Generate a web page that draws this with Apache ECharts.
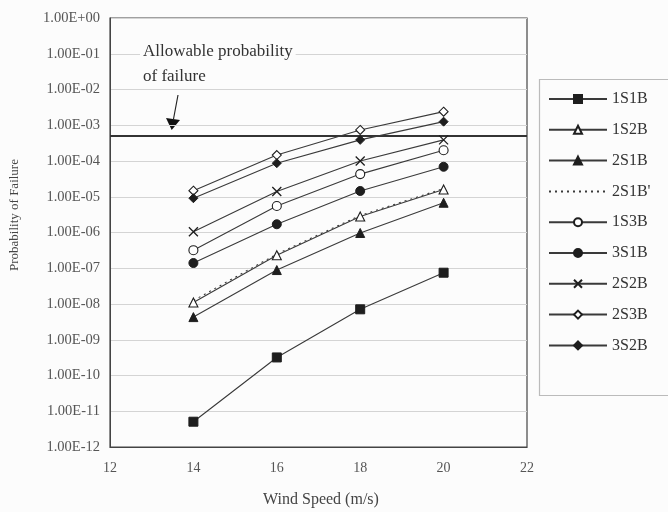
<!DOCTYPE html>
<html><head><meta charset="utf-8">
<script src="https://cdn.jsdelivr.net/npm/echarts@6/dist/echarts.min.js"></script>
<style>html,body{margin:0;padding:0;background:#fcfcfc}#c{width:668px;height:512px}</style>
</head><body><div id="c"></div>
<script>
const windSpeeds = [14, 16, 18, 20];
const s1S1B = [5.1e-12, 3.2e-10, 7.1e-9, 7.5e-8];
const s1S2B = [1.1e-8, 2.3e-7, 2.8e-6, 1.6e-5];
const s2S1B = [4.3e-9, 8.9e-8, 9.7e-7, 6.8e-6];
const s2S1Bp = [1.25e-8, 2.5e-7, 3.0e-6, 1.7e-5];
const s1S3B = [3.2e-7, 5.5e-6, 4.3e-5, 2.0e-4];
const s3S1B = [1.4e-7, 1.7e-6, 1.45e-5, 6.9e-5];
const s2S2B = [1.05e-6, 1.4e-5, 1.0e-4, 3.9e-4];
const s2S3B = [1.48e-5, 1.47e-4, 7.4e-4, 2.4e-3];
const s3S2B = [9.1e-6, 8.7e-5, 3.9e-4, 1.26e-3];
const allowable = 5e-4;
const yTickLabels = ['1.00E+00','1.00E-01','1.00E-02','1.00E-03','1.00E-04','1.00E-05','1.00E-06','1.00E-07','1.00E-08','1.00E-09','1.00E-10','1.00E-11','1.00E-12'];
const xTicks = [12, 14, 16, 18, 20, 22];

const FONT = '"Liberation Serif", "DejaVu Serif", serif';
const BG = '#fcfcfc';
const LINE = '#3a3a3a';
const MARK = '#1e1e1e';
function pts(arr){ return windSpeeds.map((x,i)=>[x, arr[i]]); }
const crossPath = 'path://M0,0L10,10M10,0L0,10';
function ser(name, data, symbol, size, filled, extra){
  const s = {
    name, type:'line', data: pts(data), symbol, symbolSize: size,
    showAllSymbol:true,
    lineStyle:{color:LINE, width:1.1},
    itemStyle: filled ? {color:MARK, borderColor:MARK, borderWidth:1}
                      : {color:'#fff', borderColor:MARK, borderWidth:1.1},
    emphasis:{disabled:true}, animation:false, z:3
  };
  return Object.assign(s, extra||{});
}
const series = [
  ser('1S1B', s1S1B, 'rect', 9, true),
  ser('1S2B', s1S2B, 'triangle', 9, false),
  ser('2S1B', s2S1B, 'triangle', 9, true),
  ser("2S1B'", s2S1Bp, 'none', 0, true, {lineStyle:{color:LINE, width:1.1, type:[2,4]}}),
  ser('1S3B', s1S3B, 'circle', 9, false),
  ser('3S1B', s3S1B, 'circle', 9, true),
  ser('2S2B', s2S2B, crossPath, 9, false, {itemStyle:{color:'none', borderColor:MARK, borderWidth:1.3}}),
  ser('2S3B', s2S3B, 'diamond', 9, false),
  ser('3S2B', s3S2B, 'diamond', 9, true)
];
const legendNames = series.map(s=>s.name);
series.push({
  name:'allowable', type:'line', symbol:'none', silent:true, animation:false,
  data:[[xTicks[0], allowable],[xTicks[xTicks.length-1], allowable]],
  lineStyle:{color:'#333', width:2.2}, z:2
});

const chart = echarts.init(document.getElementById('c'), null, {renderer:'canvas'});
chart.setOption({
  backgroundColor:BG,
  animation:false,
  textStyle:{fontFamily:FONT},
  grid:{left:110, top:18, right:141, bottom:65, show:true, borderColor:'#444', borderWidth:1.2, backgroundColor:'transparent'},
  xAxis:{
    type:'value', min:xTicks[0], max:xTicks[xTicks.length-1], interval:2,
    axisLine:{show:true, lineStyle:{color:'#444'}},
    axisTick:{show:false},
    splitLine:{show:false},
    axisLabel:{fontFamily:FONT, fontSize:14, color:'#555', margin:14}
  },
  yAxis:{
    type:'log', logBase:10, min:1e-12, max:1, interval:1, splitNumber:12,
    axisLine:{show:true, lineStyle:{color:'#444'}},
    axisTick:{show:false},
    splitLine:{show:true, lineStyle:{color:'#d4d4d4', width:1}},
    axisLabel:{fontFamily:FONT, fontSize:14.5, color:'#555', margin:10,
      formatter:v=>{const e=Math.round(-Math.log10(v)); return yTickLabels[e]||'';}}
  },
  legend:{
    orient:'vertical', left:543, top:86, itemGap:14.8,
    itemWidth:58, itemHeight:10,
    textStyle:{fontFamily:FONT, fontSize:16, color:'#333', padding:[0,0,0,0]},
    data: legendNames.map(n => n === "2S1B'" ? {name:n, itemStyle:{opacity:0}} : n)
  },
  graphic:[
    {type:'rect', left:537, top:77, shape:{width:140, height:316}, style:{fill:'none', stroke:'#bbb', lineWidth:1.2}, z:-1},
    {type:'text', x:140, y:52, z:10, style:{text:'Allowable probability', font:'17px '+FONT, fill:'#333', verticalAlign:'middle', backgroundColor:BG, padding:[2,3]}},
    {type:'text', x:140, y:77, z:10, style:{text:'of failure', font:'17px '+FONT, fill:'#333', verticalAlign:'middle', backgroundColor:BG, padding:[2,3]}},
    {type:'text', x:15, y:215, rotation:Math.PI/2, style:{text:'Probability of Failure', font:'13px '+FONT, fill:'#444', align:'center', verticalAlign:'middle'}},
    {type:'text', x:321, y:500, style:{text:'Wind Speed (m/s)', font:'16px '+FONT, fill:'#444', align:'center', verticalAlign:'middle'}},
    {type:'line', shape:{x1:178, y1:95, x2:173.5, y2:119}, style:{stroke:'#222', lineWidth:1.2}},
    {type:'polygon', shape:{points:[[166,118],[180,120],[171.7,130]]}, style:{fill:'#111'}}
  ],
  series
});
</script></body></html>
